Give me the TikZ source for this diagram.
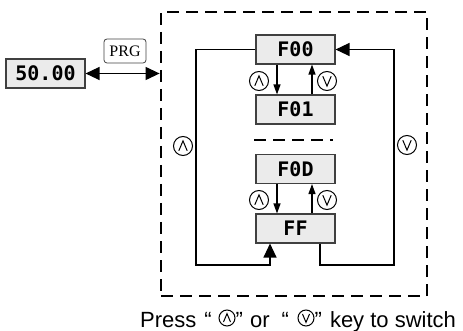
\documentclass[tikz,border=0pt]{standalone}
\usepackage{fontspec}
\setmainfont{Liberation Sans}
\newfontfamily\lcdfont{DejaVu Sans Mono}
\newfontfamily\prgfont{Liberation Serif}
\usetikzlibrary{arrows.meta, positioning}

\begin{document}
\begin{tikzpicture}[x=1pt, y=-1pt,
    panel/.style={draw=black!75, fill=black!8, line width=1.1pt, minimum width=79pt,
                  minimum height=29pt, inner sep=0pt,
                  font=\lcdfont\bfseries\fontsize{20}{20}\selectfont},
    keybtn/.style={draw, circle, line width=1pt, minimum size=#1, inner sep=0pt},
    keyup/.style={keybtn=#1, path picture={
        \draw[line width=1pt, line join=miter]
          ([xshift=-0.22*#1, yshift=-0.25*#1]path picture bounding box.center)
          -- ([yshift=0.27*#1]path picture bounding box.center)
          -- ([xshift=0.22*#1, yshift=-0.25*#1]path picture bounding box.center);}},
    keydn/.style={keybtn=#1, path picture={
        \draw[line width=1pt, line join=miter]
          ([xshift=-0.22*#1, yshift=0.25*#1]path picture bounding box.center)
          -- ([yshift=-0.27*#1]path picture bounding box.center)
          -- ([xshift=0.22*#1, yshift=0.25*#1]path picture bounding box.center);}},
    caption/.style={anchor=base west, inner sep=0pt, font=\fontsize{22}{22}\selectfont},
    wire/.style={line width=1.2pt},
    bigtip/.style={wire, -{Triangle[length=14pt,width=13pt]}},
    smalltip/.style={wire, -{Triangle[length=10pt,width=7pt]}},
    dashline/.style={line width=2.8pt, dash pattern=on 12pt off 7pt}]
    \useasboundingbox (0,0) rectangle (463,331);

    % outer dashed frame and the display
    \node (menu) [dashline, draw, minimum width=266pt, minimum height=284pt, inner sep=0pt] at (294,154) {};
    \node (disp) [panel] at (45.5,73.5) {50.00};
    \node (prg) [draw=black!75, rounded corners=3pt, line width=0.8pt, minimum width=42pt,
                 minimum height=24pt, inner sep=0pt, font=\prgfont\fontsize{16}{16}\selectfont] at (125,51) {PRG};
    \draw[wire, {Triangle[length=14pt,width=13pt]}-{Triangle[length=14pt,width=13pt]}]
        (disp.east) -- (menu.west |- disp.east);

    % parameter groups
    \node (f00) [panel] at (295.5,49.5) {F00};
    \node (f01) [panel] at (295.5,109.5) {F01};
    \node (f0d) [panel] at (295.5,169) {F0D};
    \node (ff)  [panel] at (295.5,228.5) {FF};
    \draw[dashline] (254,140) -- (333,140);

    \draw[smalltip] ([xshift=-18.5pt]f00.south) -- ([xshift=-18.5pt]f01.north);
    \draw[smalltip] ([xshift=16.5pt]f01.north) -- ([xshift=16.5pt]f00.south);
    \draw[smalltip] ([xshift=-18.5pt]f0d.south) -- ([xshift=-18.5pt]ff.north);
    \draw[smalltip] ([xshift=16.5pt]ff.north) -- ([xshift=16.5pt]f0d.south);

    % wrap-around loops
    \draw[bigtip] (f00.west) -| (196,265) -| ([xshift=-25.5pt]ff.south);
    \draw[bigtip] ([xshift=24.5pt]ff.south) |- (394,265) |- (f00.east);

    \node (up1) [keyup=19pt] at (259,81) {};
    \node (dn1) [keydn=19pt] at (327,81) {};
    \node (up2) [keyup=19pt] at (259,200) {};
    \node (dn2) [keydn=19pt] at (327,200) {};
    \node (up3) [keyup=19pt] at (183,146) {};
    \node (dn3) [keydn=19pt] at (407,145) {};

    % caption
    \node (press) [caption] at (140,327) {Press\hspace{8pt}“};
    \node (kup) [keyup=16pt] at (227,318) {};
    \node (orr) [caption] at (235.5,327) {”\hspace{7pt}or\hspace{12pt}“};
    \node (kdn) [keydn=16pt] at (306,318) {};
    \node (rest) [caption] at (314.5,327) {”\hspace{8pt}key to switch};
\end{tikzpicture}
\end{document}
